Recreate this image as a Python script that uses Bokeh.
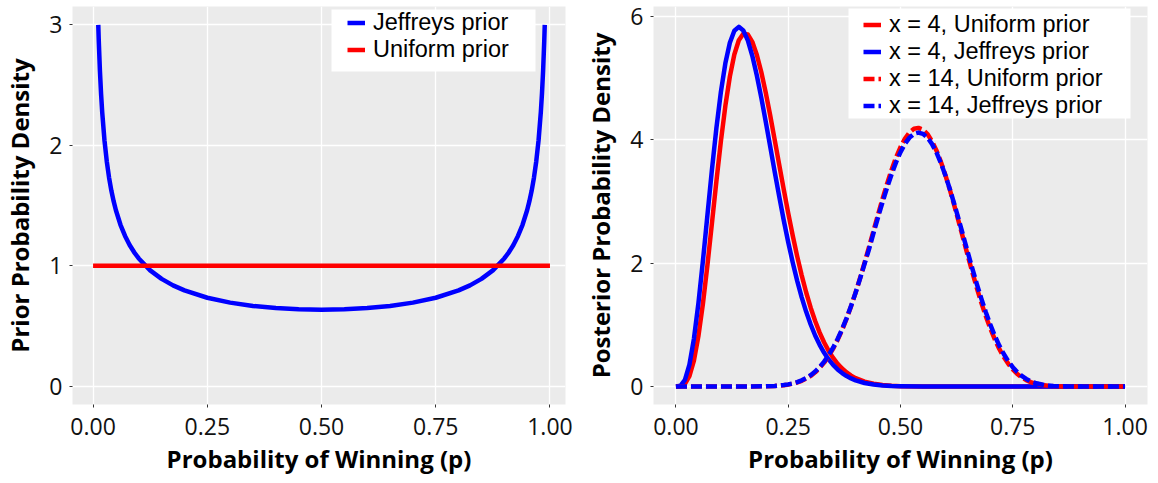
from bokeh.plotting import figure
from bokeh.models import (Range1d, FixedTicker, NumeralTickFormatter, Legend,
                          LegendItem, BoxAnnotation)
from bokeh.layouts import row
from bokeh.embed import file_html
from bokeh.resources import INLINE

# ---------------- data ----------------
x_ticks = [0.0, 0.25, 0.5, 0.75, 1.0]
left_y_ticks = [0, 1, 2, 3]
right_y_ticks = [0, 2, 4, 6]

# Left panel: prior densities
p_uniform_prior = [0.0, 1.0]
uniform_prior = [1.0, 1.0]

p_jeffreys_prior = [0.0114, 0.0125, 0.015, 0.0175, 0.02, 0.025, 0.03, 0.035, 0.04, 0.045,
                    0.05, 0.06, 0.07, 0.08, 0.09, 0.10, 0.125, 0.15, 0.175, 0.20,
                    0.25, 0.30, 0.35, 0.40, 0.45, 0.50, 0.55, 0.60, 0.65, 0.70,
                    0.75, 0.80, 0.825, 0.85, 0.875, 0.90, 0.91, 0.92, 0.93, 0.94,
                    0.95, 0.955, 0.96, 0.965, 0.97, 0.975, 0.98, 0.9825, 0.985, 0.9875,
                    0.9886]
jeffreys_prior = [2.998, 2.865, 2.619, 2.428, 2.274, 2.039, 1.866, 1.732, 1.624, 1.536,
                  1.461, 1.340, 1.248, 1.173, 1.112, 1.061, 0.9625, 0.8915, 0.8377, 0.7958,
                  0.7351, 0.6946, 0.6674, 0.6497, 0.6398, 0.6366, 0.6398, 0.6497, 0.6674, 0.6946,
                  0.7351, 0.7958, 0.8377, 0.8915, 0.9625, 1.061, 1.112, 1.173, 1.248, 1.340,
                  1.461, 1.536, 1.624, 1.732, 1.866, 2.039, 2.274, 2.428, 2.619, 2.865,
                  2.998]

# Right panel: posterior densities
p_x4 = [0.00, 0.01, 0.02, 0.03, 0.04, 0.05, 0.06, 0.07, 0.08, 0.09,
        0.10, 0.11, 0.12, 0.13, 0.14, 0.15, 0.16, 0.17, 0.18, 0.19,
        0.20, 0.21, 0.22, 0.23, 0.24, 0.25, 0.26, 0.27, 0.28, 0.29,
        0.30, 0.31, 0.32, 0.33, 0.34, 0.35, 0.36, 0.37, 0.38, 0.39,
        0.40, 0.42, 0.44, 0.46, 0.48, 0.50, 0.55, 0.60, 0.70, 0.80,
        0.90, 1.00]
x4_uniform = [0.0, 0.00324, 0.04142, 0.16728, 0.42094, 0.81628, 1.34085, 1.96348, 2.64063, 3.32570,
              3.97498, 4.55200, 5.02788, 5.38546, 5.61721, 5.72235, 5.71040, 5.59130, 5.38280, 5.10152,
              4.76577, 4.39233, 3.99748, 3.59542, 3.19676, 2.81281, 2.44880, 2.11141, 1.80294, 1.52507,
              1.27850, 1.06210, 0.87464, 0.71398, 0.57788, 0.46387, 0.36910, 0.29125, 0.22789, 0.17680,
              0.13600, 0.07842, 0.04365, 0.02342, 0.01210, 0.00603, 0.00087, 0.00009, 0.0, 0.0,
              0.0, 0.0]
x4_jeffreys = [0.0, 0.01174, 0.10664, 0.35345, 0.77424, 1.34996, 2.03501, 2.77361, 3.50834, 4.18839,
               4.77554, 5.24345, 5.57642, 5.77160, 5.83460, 5.77614, 5.61418, 5.36497, 5.04993, 4.68707,
               4.29434, 3.88682, 3.47817, 3.07937, 2.69787, 2.34133, 2.01220, 1.71415, 1.44729, 1.21138,
               1.00557, 0.82771, 0.67581, 0.54729, 0.43969, 0.35053, 0.27716, 0.21743, 0.16922, 0.13065,
               0.10006, 0.05727, 0.03169, 0.01694, 0.00873, 0.00435, 0.00063, 0.00007, 0.0, 0.0,
               0.0, 0.0]

p_x14 = [0.00, 0.05, 0.10, 0.15, 0.20, 0.22, 0.24, 0.25, 0.26, 0.27,
         0.28, 0.29, 0.30, 0.31, 0.32, 0.33, 0.34, 0.35, 0.36, 0.37,
         0.38, 0.39, 0.40, 0.41, 0.42, 0.43, 0.44, 0.45, 0.46, 0.47,
         0.48, 0.49, 0.50, 0.51, 0.52, 0.53, 0.54, 0.55, 0.56, 0.57,
         0.58, 0.59, 0.60, 0.61, 0.62, 0.63, 0.64, 0.65, 0.66, 0.67,
         0.68, 0.69, 0.70, 0.71, 0.72, 0.73, 0.74, 0.75, 0.76, 0.77,
         0.78, 0.79, 0.80, 0.82, 0.84, 0.86, 0.88, 0.90, 0.95, 1.00]
x14_uniform = [0.0, 0.0, 0.0, 0.00011, 0.00294, 0.00823, 0.02037, 0.03077, 0.04536, 0.06535,
               0.09214, 0.12733, 0.17264, 0.22990, 0.30094, 0.38755, 0.49141, 0.61401, 0.75618, 0.91862,
               1.10131, 1.30338, 1.52360, 1.75969, 2.00840, 2.26610, 2.52828, 2.78955, 3.04469, 3.28793,
               3.51261, 3.71404, 3.88529, 4.02345, 4.12242, 4.18096, 4.19578, 4.16710, 4.09539, 3.98198,
               3.83005, 3.64400, 3.42808, 3.18859, 2.93169, 2.66323, 2.38987, 2.11772, 1.85170, 1.59753,
               1.35893, 1.13894, 0.93996, 0.76323, 0.60924, 0.47769, 0.36741, 0.27696, 0.20423, 0.14718,
               0.10343, 0.07074, 0.04697, 0.01875, 0.00639, 0.00179, 0.00039, 0.0, 0.0, 0.0]
x14_jeffreys = [0.0, 0.0, 0.0, 0.00015, 0.00360, 0.00972, 0.02334, 0.03478, 0.05061, 0.07204,
                0.10043, 0.13732, 0.18437, 0.24327, 0.31572, 0.40335, 0.50767, 0.62999, 0.77096, 0.93113,
                1.11036, 1.30773, 1.52199, 1.75091, 1.99139, 2.23002, 2.49258, 2.74403, 2.98958, 3.22388,
                3.44074, 3.63590, 3.80277, 3.93880, 4.03808, 4.09951, 4.11984, 4.09909, 4.03756, 3.93615,
                3.79761, 3.62582, 3.42445, 3.19924, 2.95579, 2.69950, 2.43657, 2.17282, 1.91295, 1.66264,
                1.42565, 1.20516, 1.00380, 0.82314, 0.66403, 0.52656, 0.40991, 0.31301, 0.23402, 0.17115,
                0.12219, 0.08499, 0.05747, 0.02388, 0.00853, 0.00252, 0.00059, 0.0, 0.0, 0.0]

left_labels = ["Jeffreys prior", "Uniform prior"]
right_labels = ["x = 4, Uniform prior", "x = 4, Jeffreys prior",
                "x = 14, Uniform prior", "x = 14, Jeffreys prior"]

# ---------------- styling ----------------
FONT = "Open Sans"
LEGEND_FONT = "Liberation Sans"
BLUE = "#0000FF"
RED = "#FF0000"
LW = 4.5
DASH = "11 4"


def style(p, ylabel, yticks):
    p.background_fill_color = "#EBEBEB"
    p.border_fill_color = "white"
    p.outline_line_color = None
    p.xaxis.ticker = FixedTicker(ticks=x_ticks)
    p.xaxis.formatter = NumeralTickFormatter(format="0.00")
    p.yaxis.ticker = FixedTicker(ticks=yticks)
    p.xaxis.axis_label = "Probability of Winning (p)"
    p.yaxis.axis_label = ylabel
    for ax in (p.xaxis[0], p.yaxis[0]):
        ax.axis_label_text_font = FONT
        ax.axis_label_text_font_style = "bold"
        ax.axis_label_text_font_size = "24px"
        ax.axis_label_text_color = "black"
        ax.major_label_text_font = FONT
        ax.major_label_text_font_size = "23px"
        ax.major_label_text_color = "#111111"
        ax.axis_line_color = None
        ax.major_tick_line_color = "#333333"
        ax.major_tick_line_width = 1
        ax.major_tick_out = 3
        ax.major_tick_in = 0
        ax.minor_tick_line_color = None
    p.xaxis.major_label_standoff = 10
    p.yaxis.major_label_standoff = 7
    p.xaxis.axis_label_standoff = 4
    p.yaxis.axis_label_standoff = 10
    p.xgrid.grid_line_color = "white"
    p.ygrid.grid_line_color = "white"
    p.xgrid.grid_line_width = 1.3
    p.ygrid.grid_line_width = 1.3


def make_legend(p, entries, x0, row_centers, box, frame_h=398):
    l, r, b, t = box
    p.add_layout(BoxAnnotation(left=l, right=r, bottom=b, top=t,
                               left_units="screen", right_units="screen",
                               bottom_units="screen", top_units="screen",
                               fill_color="white", fill_alpha=1.0, line_color=None))
    for (label, rend), cy in zip(entries, row_centers):
        leg = Legend(items=[LegendItem(label=label, renderers=[rend])],
                     location=(x0, frame_h - cy - 13.5), padding=0, spacing=0,
                     glyph_width=18, glyph_height=27, label_standoff=8,
                     label_text_font=LEGEND_FONT, label_text_font_size="23.5px",
                     label_text_color="black",
                     background_fill_alpha=0.0, border_line_color=None)
        p.add_layout(leg)


# ---------------- left panel ----------------
p1 = figure(width=579, height=483, output_backend="svg", toolbar_location=None,
            x_range=Range1d(-0.045, 1.034), y_range=Range1d(-0.15, 3.15),
            min_border_left=70, min_border_right=14, min_border_top=6, min_border_bottom=79)
style(p1, "Prior Probability Density", left_y_ticks)
rj = p1.line(p_jeffreys_prior, jeffreys_prior, line_color=BLUE, line_width=LW, line_join="round")
ru = p1.line(p_uniform_prior, uniform_prior, line_color=RED, line_width=LW)
make_legend(p1, [(left_labels[0], rj), (left_labels[1], ru)],
            275, [16.9, 43.5], (259, 463, 333, 395))

# ---------------- right panel ----------------
p2 = figure(width=579, height=483, output_backend="svg", toolbar_location=None,
            x_range=Range1d(-0.05, 1.05), y_range=Range1d(-0.292, 6.165),
            min_border_left=74, min_border_right=11, min_border_top=6, min_border_bottom=79)
style(p2, "Posterior Probability Density", right_y_ticks)
r1 = p2.line(p_x4, x4_uniform, line_color=RED, line_width=LW, line_join="round")
r2 = p2.line(p_x4, x4_jeffreys, line_color=BLUE, line_width=LW, line_join="round")
r3 = p2.line(p_x14, x14_uniform, line_color=RED, line_width=LW, line_dash=DASH, line_join="round")
r4 = p2.line(p_x14, x14_jeffreys, line_color=BLUE, line_width=LW, line_dash=DASH, line_join="round")
make_legend(p2, [(right_labels[0], r1), (right_labels[1], r2),
                 (right_labels[2], r3), (right_labels[3], r4)],
            210, [18.3, 45.0, 72.3, 99.0], (195, 477, 286, 396))

layout = row(p1, p2)
open("out.html", "w").write(file_html(layout, INLINE))
